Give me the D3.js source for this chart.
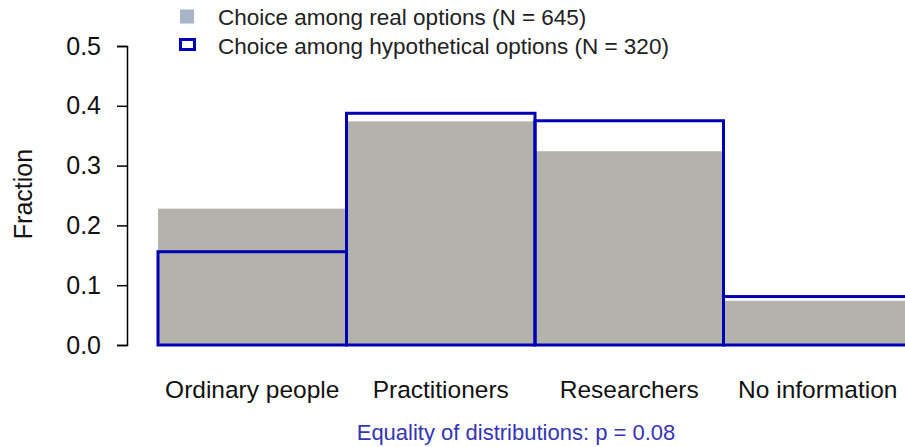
<!DOCTYPE html>
<html>
<head>
<meta charset="utf-8">
<script src="https://cdn.jsdelivr.net/npm/d3@7"></script>
<style>
  body { margin: 0; background: #fff; }
  svg text { font-family: "Liberation Sans", Arial, sans-serif; }
</style>
</head>
<body>
<script>
// categories and series
var categories = ["Ordinary people", "Practitioners", "Researchers", "No information"];
var realValues = [0.228, 0.374, 0.324, 0.074];
var hypoValues = [0.156, 0.3875, 0.375, 0.081];
var yTicks = [0.0, 0.1, 0.2, 0.3, 0.4, 0.5];
var legendLabels = ["Choice among real options (N = 645)", "Choice among hypothetical options (N = 320)"];
var footnote = "Equality of distributions: p = 0.08";

var width = 905, height = 447;

var svg = d3.select("body")
    .append("svg")
    .attr("width", width)
    .attr("height", height);

// scales
var x = d3.scaleBand()
    .domain(categories)
    .range([158, 912])
    .padding(0);

var y = d3.scaleLinear()
    .domain([0, 0.5])
    .range([345, 46]);

// real option bars (filled)
svg.selectAll(".real")
    .data(realValues)
    .enter()
    .append("rect")
    .attr("class", "real")
    .attr("x", function(d, i){ return x(categories[i]); })
    .attr("width", x.bandwidth())
    .attr("y", function(d){ return y(d); })
    .attr("height", function(d){ return y(0) - y(d); })
    .attr("fill", "#b3b3ab");

// hypothetical option bars (outline)
svg.selectAll(".hypo")
    .data(hypoValues)
    .enter()
    .append("rect")
    .attr("class", "hypo")
    .attr("x", function(d, i){ return x(categories[i]); })
    .attr("width", x.bandwidth())
    .attr("y", function(d){ return y(d); })
    .attr("height", function(d){ return y(0) - y(d); })
    .attr("fill", "none")
    .attr("stroke", "#0000b4")
    .attr("stroke-width", 3);

// y axis
var yAxis = svg.append("g")
    .attr("transform", "translate(127,0)")
    .call(d3.axisLeft(y)
        .tickValues(yTicks)
        .tickSize(10)
        .tickPadding(16)
        .tickFormat(d3.format(".1f")));

yAxis.select(".domain").attr("stroke", "#000").attr("stroke-width", 1.5);
yAxis.selectAll(".tick line").attr("stroke", "#000").attr("stroke-width", 1.5);
yAxis.selectAll(".tick text")
    .attr("fill", "#111")
    .style("font-size", "25px")
    .style("font-family", "'Liberation Sans', Arial, sans-serif");

// y label
svg.append("text")
    .attr("transform", "translate(32,194) rotate(-90)")
    .attr("text-anchor", "middle")
    .attr("fill", "#111")
    .style("font-size", "25px")
    .text("Fraction");

// category labels
svg.selectAll(".catLabel")
    .data(categories)
    .enter()
    .append("text")
    .attr("class", "catLabel")
    .attr("x", function(d){ return x(d) + x.bandwidth() / 2; })
    .attr("y", 398)
    .attr("text-anchor", "middle")
    .attr("fill", "#111")
    .style("font-size", "24.5px")
    .text(function(d){ return d; });

// footnote
svg.append("text")
    .attr("x", 516)
    .attr("y", 440)
    .attr("text-anchor", "middle")
    .attr("fill", "#3434b8")
    .style("font-size", "22px")
    .text(footnote);

// legend
var legend = svg.append("g");
legend.append("rect")
    .attr("x", 180).attr("y", 9.5)
    .attr("width", 14).attr("height", 14)
    .attr("fill", "#a8b4c8");
legend.append("rect")
    .attr("x", 180.5).attr("y", 39.5)
    .attr("width", 14).attr("height", 10)
    .attr("fill", "none")
    .attr("stroke", "#0000b4")
    .attr("stroke-width", 3);
legend.selectAll(".legText")
    .data(legendLabels)
    .enter()
    .append("text")
    .attr("class", "legText")
    .attr("x", 218)
    .attr("y", function(d, i){ return 25 + i * 29; })
    .style("font-size", "22.5px")
    .attr("fill", "#222")
    .text(function(d){ return d; });
</script>
</body>
</html>
